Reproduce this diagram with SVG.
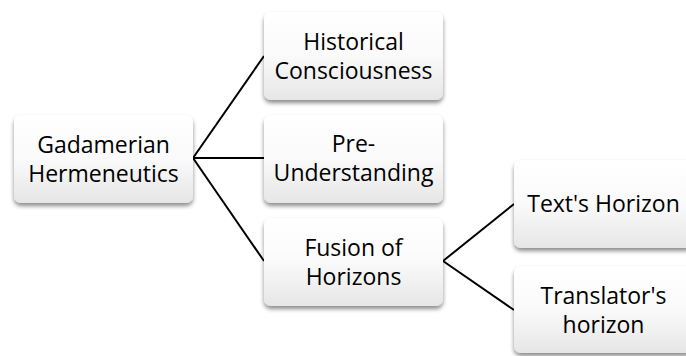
<svg xmlns="http://www.w3.org/2000/svg" width="686" height="356" viewBox="0 0 686 356">
<style>
.box{fill:url(#g);filter:url(#sh);}
.t{font-family:"Open Sans","Noto Sans",sans-serif;font-size:23px;fill:#000;text-anchor:middle;}
.c{stroke:#000;stroke-width:2;fill:none;}
</style>
<defs>
<linearGradient id="g" x1="0" y1="0" x2="0" y2="1">
<stop offset="0" stop-color="#ffffff"/>
<stop offset="0.5" stop-color="#fafafa"/>
<stop offset="1" stop-color="#e6e6e6"/>
</linearGradient>
<filter id="sh" x="-10%" y="-10%" width="125%" height="130%">
<feDropShadow dx="0" dy="3" stdDeviation="2" flood-color="#000" flood-opacity="0.45"/>
</filter>
</defs>
<g id="connectors">
<line class="c" x1="193" y1="158" x2="264" y2="56"/>
<line class="c" x1="193" y1="158" x2="264" y2="158"/>
<line class="c" x1="193" y1="158" x2="264" y2="261"/>
<line class="c" x1="443" y1="261" x2="514" y2="204"/>
<line class="c" x1="443" y1="261" x2="514" y2="310"/>
</g>
<g id="gadamerian">
<rect class="box" x="14" y="115" width="179" height="88" rx="7"/>
<text class="t" x="103.5" y="153">Gadamerian</text>
<text class="t" x="103.5" y="182">Hermeneutics</text>
</g>
<g id="historical">
<rect class="box" x="264" y="12" width="179" height="88" rx="7"/>
<text class="t" x="353.5" y="50">Historical</text>
<text class="t" x="353.5" y="79">Consciousness</text>
</g>
<g id="preunderstanding">
<rect class="box" x="264" y="115" width="179" height="88" rx="7"/>
<text class="t" x="353.5" y="152">Pre-</text>
<text class="t" x="353.5" y="181">Understanding</text>
</g>
<g id="fusion">
<rect class="box" x="264" y="218" width="179" height="88" rx="7"/>
<text class="t" x="353.5" y="256">Fusion of</text>
<text class="t" x="353.5" y="285">Horizons</text>
</g>
<g id="texthorizon">
<rect class="box" x="514" y="160" width="179" height="88" rx="7"/>
<text class="t" x="603.5" y="212">Text's Horizon</text>
</g>
<g id="translatorhorizon">
<rect class="box" x="514" y="266" width="179" height="87" rx="7"/>
<text class="t" x="603.5" y="304">Translator's</text>
<text class="t" x="603.5" y="333">horizon</text>
</g>
</svg>
